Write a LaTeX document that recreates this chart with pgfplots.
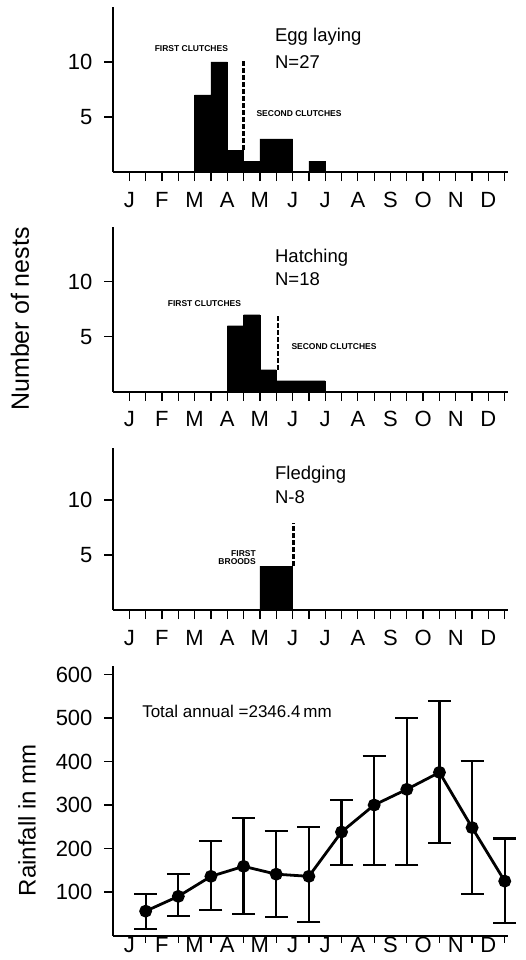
\documentclass[border=0pt]{standalone}
\usepackage{fontspec}
\setmainfont{Liberation Sans}
\usepackage{pgfplots}
\pgfplotsset{compat=1.18}

\newcommand{\tinycaps}{\fontsize{8.5}{9.5}\selectfont\bfseries}
\tikzset{
  dashline/.style={line width=2.6pt, dash pattern=on 5pt off 2pt},
  title/.style={anchor=west, font=\fontsize{18.5}{18.5}\selectfont, inner sep=0pt},
}
\pgfplotsset{
  panel/.style={
    scale only axis, width=395pt,
    xmin=0, xmax=12.1, ymin=0,
    axis lines*=left,
    axis line style={-, line width=2pt},
    tick style={line width=1.3pt, black},
    tick align=outside,
    major tick length=9pt, minor tick length=9pt,
    /pgf/number format/assume math mode=true,
    tick label style={font=\fontsize{22}{22}\selectfont},
    xticklabel style={text height=15.5pt, text depth=0pt, yshift=-7pt},
    yticklabel style={xshift=-8pt},
    xtick={0.5,1.5,...,11.5},
    xticklabels={J,F,M,A,M,J,J,A,S,O,N,D},
    minor xtick={1,2,...,12},
    clip=false,
  },
  nests/.style={panel, height=165pt, ymax=15, ytick={5,10}},
}

\begin{document}
\begin{tikzpicture}
\useasboundingbox (0,0) rectangle (525pt,-960pt);

% egg laying
\begin{axis}[nests, at={(113pt,-172pt)}, anchor=south west]
  \addplot[ybar interval, fill=black, draw=black] coordinates {
    (2.5,7) (3,10) (3.5,2) (4,1) (4.5,3) (5,3) (5.5,0) (6,1) (6.5,0)};
  \draw[dashline] (axis cs:4,2) -- (axis cs:4,10.2);
  \node[font=\tinycaps] at (axis cs:2.4,11.2) {FIRST CLUTCHES};
  \node[font=\tinycaps] at (axis cs:5.7,5.3) {SECOND CLUTCHES};
  \node[title] at (axis cs:4.96,12.3) {Egg laying};
  \node[title] at (axis cs:4.96,10.0) {N=27};
\end{axis}

% hatching
\begin{axis}[nests, at={(113pt,-391.7pt)}, anchor=south west]
  \addplot[ybar interval, fill=black, draw=black] coordinates {
    (3.5,6) (4,7) (4.5,2) (5,1) (5.5,1) (6,1) (6.5,0)};
  \draw[dashline] (axis cs:5.05,2) -- (axis cs:5.05,6.9);
  \node[font=\tinycaps] at (axis cs:2.8,8.0) {FIRST CLUTCHES};
  \node[font=\tinycaps] at (axis cs:6.77,4.1) {SECOND CLUTCHES};
  \node[title] at (axis cs:4.96,12.2) {Hatching};
  \node[title] at (axis cs:4.96,10.2) {N=18};
\end{axis}

% fledging
\begin{axis}[panel, height=161.7pt, ymax=14.7, ytick={5,10}, at={(113pt,-610pt)}, anchor=south west]
  \addplot[ybar interval, fill=black, draw=black] coordinates {
    (4.5,4) (5,4) (5.5,0)};
  \draw[dashline] (axis cs:5.53,4) -- (axis cs:5.53,7.9);
  \node[font=\tinycaps, align=right, anchor=east, inner sep=0pt] at (axis cs:4.38,4.75) {FIRST\\[-1pt]BROODS};
  \node[title] at (axis cs:4.96,12.3) {Fledging};
  \node[title] at (axis cs:4.96,10.3) {N-8};
\end{axis}

\node[rotate=90, font=\fontsize{25}{25}\selectfont] at (20pt,-319pt) {Number of nests};
\node[rotate=90, font=\fontsize{24}{24}\selectfont] at (27pt,-820pt) {Rainfall in mm};

% rainfall
\begin{axis}[panel, height=269.7pt, ymax=620, ytick={100,200,...,600},
  at={(113pt,-935.5pt)}, anchor=south west,
  major x tick style={draw=none},
  minor tick length=7pt,
  xticklabel style={yshift=18pt}]
  \addplot[black, line width=2.8pt, mark=*, mark size=5pt,
    error bars/.cd, y dir=both, y explicit,
    error bar style={line width=2.2pt},
    error mark options={rotate=90, mark size=11.5pt, line width=2.2pt}]
  coordinates {
    (1,56) += (0,39) -= (0,41)
    (2,90) += (0,51) -= (0,46)
    (3,136) += (0,82) -= (0,77)
    (4,159) += (0,112) -= (0,109)
    (5,141) += (0,100) -= (0,99)
    (6,136) += (0,114) -= (0,105)
    (7,238) += (0,74) -= (0,76)
    (8,300) += (0,113) -= (0,138)
    (9,336) += (0,164) -= (0,174)
    (10,375) += (0,165) -= (0,162)
    (11,248) += (0,154) -= (0,152)
    (12,125) += (0,98) -= (0,96)
  };
  \node[anchor=west, inner sep=0pt, font=\fontsize{17}{17}\selectfont] at (axis cs:0.89,516) {Total annual =2346.4\,mm};
\end{axis}
\end{tikzpicture}
\end{document}
